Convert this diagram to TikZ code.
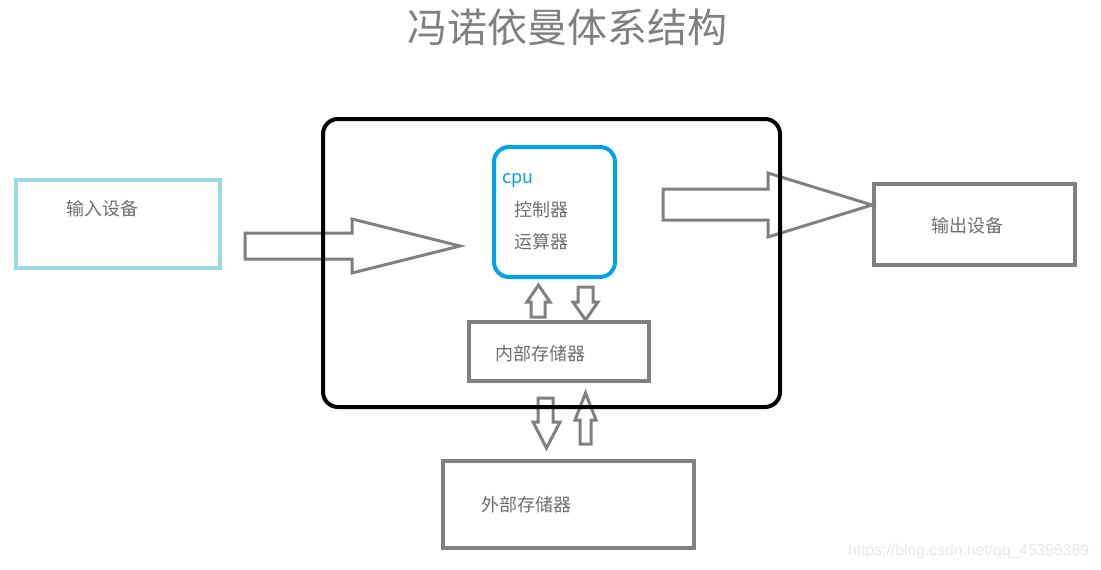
\documentclass[tikz,border=0pt]{standalone}
\usepackage{fontspec}
\setmainfont{Noto Sans CJK SC}
\newfontfamily\wmfont{Liberation Sans}
\definecolor{gline}{HTML}{808080}
\definecolor{gtext}{HTML}{6E6E6E}
\definecolor{cpublue}{HTML}{00A2E8}
\definecolor{inblue}{HTML}{99D9EA}
\begin{document}
\begin{tikzpicture}[x=1pt,y=-1pt,
  box/.style={draw=gline,line width=4pt,inner sep=0pt,rectangle},
  lbl/.style={text=gtext,font=\fontsize{18}{21}\selectfont,anchor=west,inner sep=0pt},
  blockarrow/.style={draw=gline,line width=3pt,line join=miter}]
\useasboundingbox (0,0) rectangle (1101,570);
% title
\node[text=gline,font=\fontsize{40}{46}\selectfont,inner sep=0pt] (title) at (567,27) {冯诺依曼体系结构};
% block arrows (drawn first, the frame lies on top)
\draw[blockarrow] (245,233) -- (352,233) -- (352,219) -- (460,246) -- (352,273) -- (352,259) -- (245,259) -- cycle;
\draw[blockarrow] (663,189) -- (768,189) -- (768,173) -- (872,205) -- (768,237) -- (768,220) -- (663,220) -- cycle;
\draw[blockarrow] (531,317) -- (531,302) -- (527,302) -- (538.5,285) -- (550,302) -- (545,302) -- (545,317) -- cycle;
\draw[blockarrow] (578,287) -- (593,287) -- (593,302) -- (598,302) -- (585.5,320) -- (573,302) -- (578,302) -- cycle;
\draw[blockarrow] (538,398) -- (553,398) -- (553,422) -- (560,422) -- (546.5,448) -- (533,422) -- (538,422) -- cycle;
\draw[blockarrow] (580,444) -- (580,420) -- (575,420) -- (585.5,393) -- (596,420) -- (591,420) -- (591,444) -- cycle;
% computer frame
\node[draw=black,line width=4pt,rounded corners=15pt,minimum width=457pt,minimum height=288pt,inner sep=0pt] (frame) at (551.5,263) {};
% input device
\node[box,draw=inblue,minimum width=204pt,minimum height=88pt] (in) at (118,224) {};
\node[lbl] (inlbl) at (66,209) {输入设备};
% cpu
\node[draw=cpublue,line width=4pt,rounded corners=15pt,minimum width=121pt,minimum height=130pt,inner sep=0pt] (cpu) at (554.5,212) {};
\node[lbl,text=cpublue] (cpulbl) at (502,181) {cpu};
\node[lbl] (ctrl) at (514,210) {控制器};
\node[lbl] (alu) at (514,242) {运算器};
% internal memory
\node[box,minimum width=180pt,minimum height=59pt] (mem) at (559,351.5) {};
\node[lbl] (memlbl) at (495,354) {内部存储器};
% external memory
\node[box,minimum width=251pt,minimum height=87pt] (ext) at (568.5,504.5) {};
\node[lbl] (extlbl) at (481,505) {外部存储器};
% output device
\node[box,minimum width=201pt,minimum height=81pt] (out) at (974.5,224.5) {};
\node[lbl] (outlbl) at (931,226) {输出设备};
% watermark
\node[text=black!9,font=\wmfont\fontsize{15.7}{18}\selectfont,anchor=west,inner sep=0pt] (wm) at (848,551) {https://blog.csdn.net/qq\_45396389};
\end{tikzpicture}
\end{document}
